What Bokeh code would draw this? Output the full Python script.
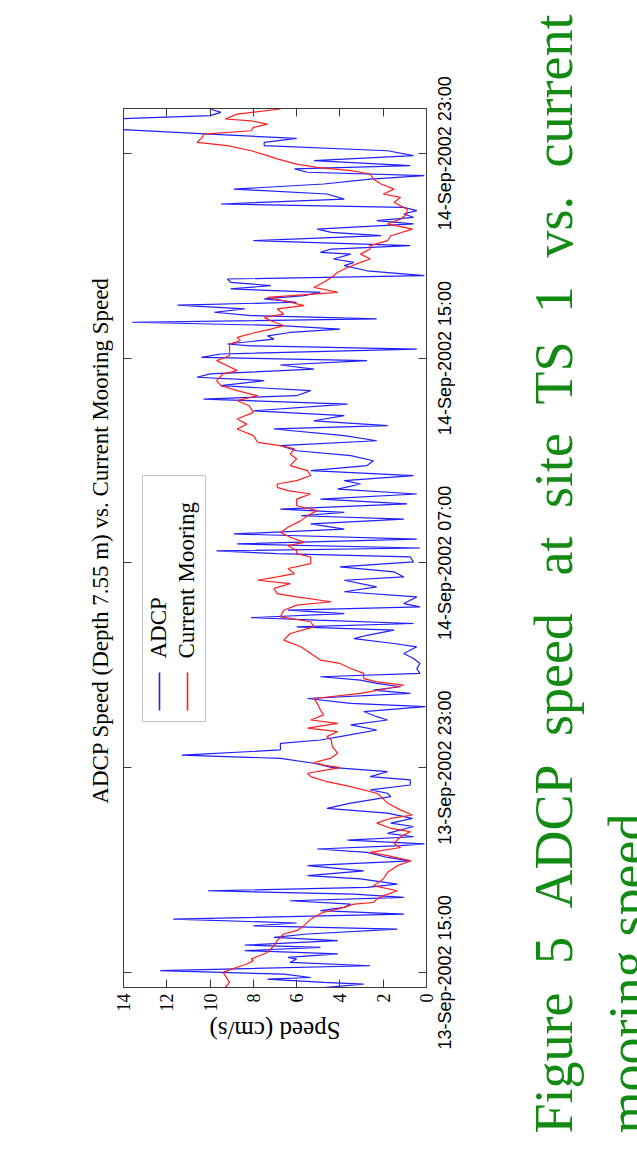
import math
from bokeh.plotting import figure
from bokeh.layouts import row, column
from bokeh.models import Range1d, LinearAxis, FixedTicker, Label, BoxAnnotation, ColumnDataSource
from bokeh.core.properties import value
from bokeh.embed import file_html
from bokeh.resources import INLINE

# ---------------- data (hours since 13-Sep-2002 00:00, speed in cm/s) ----------------
adcp_hours = [14.41, 14.54, 14.61, 14.74, 14.80, 14.93, 15.07, 15.13, 15.26, 15.39, 15.52, 15.59,
              15.72, 15.85, 15.98, 16.07, 16.24, 16.37, 16.50, 16.69, 16.82, 16.93, 17.08, 17.28,
              17.41, 17.54, 17.67, 17.80, 17.93, 18.06, 18.19, 18.32, 18.45, 18.65, 18.78, 18.97,
              19.17, 19.36, 19.49, 19.69, 19.82, 19.95, 20.02, 20.17, 20.30, 20.43, 20.70, 20.83,
              21.02, 21.22, 21.41, 21.61, 21.87, 22.00, 22.13, 22.32, 22.52, 22.65, 22.84, 23.01,
              23.17, 23.36, 23.49, 23.69, 23.95, 24.08, 24.21, 24.47, 24.67, 24.86, 24.99, 25.19,
              25.38, 25.51, 25.70, 25.90, 26.03, 26.16, 26.29, 26.42, 26.55, 26.68, 26.87, 27.07,
              27.26, 27.46, 27.72, 27.85, 28.04, 28.17, 28.37, 28.50, 28.63, 28.76, 28.86, 29.02,
              29.15, 29.28, 29.41, 29.54, 29.67, 29.87, 30.06, 30.32, 30.45, 30.65, 30.84, 31.04,
              31.23, 31.36, 31.47, 31.58, 31.74, 31.93, 32.13, 32.32, 32.52, 32.71, 32.84, 32.97,
              33.10, 33.30, 33.49, 33.69, 33.88, 34.08, 34.21, 34.41, 34.60, 34.80, 34.99, 35.19,
              35.38, 35.58, 35.77, 35.97, 36.23, 36.36, 36.55, 36.75, 36.94, 37.20, 37.40, 37.53,
              37.73, 37.92, 38.12, 38.25, 38.38, 38.57, 38.73, 38.90, 39.03, 39.16, 39.35, 39.48,
              39.55, 39.74, 39.87, 40.00, 40.13, 40.27, 40.40, 40.53, 40.66, 40.79, 40.92, 41.07,
              41.18, 41.31, 41.44, 41.57, 41.70, 41.83, 41.96, 42.09, 42.22, 42.41, 42.61, 42.74,
              42.87, 43.06, 43.13, 43.26, 43.39, 43.59, 43.78, 43.91, 44.04, 44.24, 44.37, 44.50,
              44.63, 44.76, 44.89, 45.02, 45.21, 45.41, 45.60, 45.80, 45.99, 46.13, 46.26, 46.39,
              46.52, 46.71, 46.91, 47.10, 47.30, 47.43, 47.58, 47.75, 47.95, 48.14, 48.34, 48.47,
              48.60, 48.73]
adcp_speed = [4.75, 2.9, 4.75, 7.35, 5.35, 6.6, 12.3, 9.35, 2.6, 6.3, 6.0, 6.4,
              4.1, 8.4, 4.9, 8.4, 4.1, 7.05, 5.5, 1.35, 8.0, 6.0, 11.7, 1.05,
              4.9, 3.8, 3.5, 6.3, 1.05, 3.35, 10.1, 2.75, 1.35, 3.05, 5.5, 2.9,
              5.5, 0.75, 1.8, 2.75, 5.05, 1.2, 0.1, 3.65, 0.6, 1.8, 0.6, 1.65,
              0.65, 1.8, 4.6, 3.5, 1.65, 1.8, 2.6, 0.75, 0.75, 2.6, 1.8, 4.4,
              5.2, 6.75, 11.3, 6.75, 6.75, 4.9, 4.0, 2.3, 3.5, 1.8, 2.3, 2.9,
              0.05, 3.5, 5.5, 0.75, 2.45, 1.2, 2.3, 3.05, 4.9, 0.3, 0.45, 0.3,
              0.6, 1.05, 0.45, 1.5, 3.35, 2.75, 1.5, 6.0, 0.6, 5.05, 8.1, 3.8,
              6.4, 0.3, 1.05, 0.75, 0.45, 3.8, 2.3, 3.8, 1.05, 1.5, 4.0, 0.6,
              0.75, 6.9, 9.7, 0.3, 8.75, 0.45, 8.9, 3.8, 5.35, 1.05, 5.8, 3.8,
              6.75, 0.9, 4.9, 0.45, 4.1, 3.05, 3.8, 0.6, 5.35, 2.75, 2.45, 3.5,
              6.0, 6.75, 2.3, 3.8, 7.05, 1.8, 5.2, 3.8, 8.0, 3.65, 10.3, 6.0,
              5.35, 9.5, 7.5, 10.6, 10.0, 5.2, 6.75, 2.75, 10.4, 9.5, 0.45, 8.1,
              9.2, 7.05, 7.35, 6.3, 4.0, 6.75, 13.6, 2.3, 8.1, 9.8, 8.4, 11.5,
              6.0, 7.5, 5.65, 4.9, 9.05, 7.2, 9.05, 9.2, 0.1, 2.75, 3.8, 3.35,
              4.3, 3.5, 4.9, 4.4, 0.75, 8.0, 2.1, 4.4, 5.05, 0.6, 2.3, 0.6,
              1.05, 0.45, 1.05, 9.5, 3.8, 4.6, 8.9, 4.75, 2.6, 0.1, 5.5, 6.1,
              0.75, 5.2, 0.6, 1.8, 7.5, 7.5, 6.0, 10.0, 14.6, 14.6, 14.6, 10.0,
              9.5, 10.0]

mooring_hours = [14.41, 14.61, 15.00, 15.20, 15.33, 15.46, 15.52, 15.78, 16.04, 16.24, 16.50, 16.63,
                 16.76, 17.08, 17.34, 17.47, 17.67, 17.73, 17.86, 17.99, 18.19, 18.39, 18.65, 18.91,
                 19.17, 19.36, 19.56, 19.69, 19.88, 20.04, 20.30, 20.50, 20.63, 20.83, 21.02, 21.15,
                 21.35, 21.61, 21.87, 22.00, 22.26, 22.45, 22.65, 22.78, 22.91, 23.00, 23.10, 23.20,
                 23.36, 23.56, 23.82, 24.08, 24.21, 24.41, 24.54, 24.73, 24.86, 25.06, 25.25, 25.51,
                 25.70, 25.90, 26.09, 26.22, 26.35, 26.48, 26.68, 26.87, 27.07, 27.20, 27.46, 27.72,
                 27.98, 28.24, 28.50, 28.70, 28.89, 29.15, 29.35, 29.48, 29.67, 29.80, 30.00, 30.19,
                 30.32, 30.45, 30.58, 30.78, 30.97, 31.23, 31.36, 31.48, 31.67, 31.80, 32.00, 32.19,
                 32.39, 32.65, 32.84, 33.04, 33.23, 33.49, 33.69, 33.82, 33.95, 34.08, 34.21, 34.41,
                 34.60, 34.80, 35.06, 35.25, 35.45, 35.58, 35.71, 35.97, 36.23, 36.42, 36.62, 36.88,
                 37.14, 37.34, 37.53, 37.73, 37.92, 38.12, 38.38, 38.51, 38.70, 38.90, 39.09, 39.35,
                 39.55, 39.68, 39.81, 39.98, 40.13, 40.27, 40.46, 40.59, 40.72, 40.92, 41.05, 41.24,
                 41.37, 41.57, 41.76, 41.96, 42.15, 42.35, 42.54, 42.74, 42.87, 43.06, 43.26, 43.39,
                 43.59, 43.78, 44.04, 44.24, 44.43, 44.63, 44.82, 45.08, 45.28, 45.41, 45.60, 45.80,
                 45.99, 46.19, 46.32, 46.45, 46.58, 46.78, 46.91, 47.10, 47.30, 47.43, 47.62, 47.75,
                 47.88, 48.01, 48.14, 48.27, 48.34, 48.53, 48.73]
mooring_speed = [9.3, 9.1, 9.4, 8.75, 8.3, 8.0, 8.1, 7.35, 7.05, 6.9, 6.6, 6.0,
                 5.75, 5.35, 4.8, 4.1, 3.35, 2.45, 2.3, 2.0, 1.35, 2.45, 2.0, 1.8,
                 1.35, 0.7, 1.8, 2.6, 1.2, 1.5, 1.2, 0.75, 1.65, 2.3, 1.65, 0.65,
                 1.2, 1.8, 2.1, 2.3, 3.5, 4.6, 5.35, 5.5, 4.6, 4.0, 4.75, 5.2,
                 4.45, 4.1, 4.35, 4.4, 4.6, 4.1, 5.5, 4.1, 5.35, 4.75, 4.9, 5.05,
                 5.2, 3.05, 1.8, 1.05, 2.3, 2.9, 2.9, 3.5, 4.0, 4.9, 5.35, 5.8,
                 6.6, 6.3, 5.2, 5.35, 6.75, 6.6, 6.0, 4.4, 6.0, 6.9, 7.05, 6.3,
                 7.8, 6.9, 6.1, 6.4, 5.35, 5.35, 6.0, 6.0, 6.4, 5.65, 6.3, 6.75,
                 6.4, 5.8, 5.5, 5.05, 6.0, 6.0, 5.35, 6.4, 6.9, 6.9, 6.0, 5.35,
                 5.5, 6.3, 6.0, 6.3, 6.1, 6.75, 7.8, 8.0, 8.75, 8.3, 8.75, 8.0,
                 8.2, 8.75, 7.8, 8.75, 9.5, 9.7, 9.4, 8.75, 9.2, 9.7, 9.1, 9.1,
                 9.1, 8.6, 8.75, 8.0, 7.2, 6.6, 7.2, 7.5, 6.6, 6.9, 5.65, 6.6,
                 7.35, 4.1, 5.2, 4.75, 4.4, 4.1, 3.65, 3.05, 2.6, 3.05, 2.6, 2.6,
                 1.8, 1.65, 0.65, 1.8, 1.2, 0.9, 0.9, 1.5, 1.2, 2.0, 1.5, 2.1,
                 2.45, 2.6, 3.5, 5.05, 6.0, 6.9, 7.35, 8.1, 9.2, 10.6, 10.35, 10.3,
                 8.1, 8.0, 7.35, 8.1, 9.3, 8.75, 6.75]

time_ticks = [15, 23, 31, 39, 47]
time_tick_labels = ["13-Sep-2002 15:00", "13-Sep-2002 23:00", "14-Sep-2002 07:00",
                    "14-Sep-2002 15:00", "14-Sep-2002 23:00"]
speed_ticks = [0, 2, 4, 6, 8, 10, 12, 14]

title_text = "ADCP Speed (Depth 7.55 m) vs. Current Mooring Speed"
speed_label_text = "Speed (cm/s)"
legend_names = ["ADCP", "Current Mooring"]
caption_line1 = ["Figure", "5", "ADCP", "speed", "at", "site", "TS", "1", "vs.", "current"]
caption_line2 = ["mooring", "speed."]

# ---------------- styling constants ----------------
SERIF = "Liberation Serif"
SANS = "Liberation Sans"
AX = "#3a3a3a"
BLUE = "#1f1fff"
RED = "#ff1f1f"
GREEN = "#138a13"
PAGE_H = 1170

# page columns: [0,115) title | [115,434) plot | [434,500) time labels | [500,637) caption
LEFT_W, MAIN_W, TICK_W, CAP_W = 115, 319, 66, 137
MAIN_H, BOTTOM_H = 1015, 155
BORDER_TOP, BORDER_BOTTOM_MAIN, BORDER_SIDE = 108, 28, 8
FRAME_H = MAIN_H - BORDER_TOP - BORDER_BOTTOM_MAIN
FRAME_W = MAIN_W - 2 * BORDER_SIDE


def blank(width, height, x0, x1, y0, y1):
    f = figure(width=width, height=height, output_backend="svg", toolbar_location=None,
               x_range=Range1d(x0, x1), y_range=Range1d(y0, y1), min_border=0)
    f.axis.visible = False
    f.grid.visible = False
    f.outline_line_color = None
    f.background_fill_color = "white"
    f.border_fill_color = "white"
    return f


# ---------------- main plot ----------------
p = figure(width=MAIN_W, height=MAIN_H, output_backend="svg", toolbar_location=None,
           x_range=Range1d(14, 0), y_range=Range1d(14.41, 48.75),
           x_axis_location="below", y_axis_location="right",
           min_border_left=BORDER_SIDE, min_border_right=BORDER_SIDE,
           min_border_top=BORDER_TOP, min_border_bottom=BORDER_BOTTOM_MAIN)
p.background_fill_color = "white"
p.border_fill_color = "white"
p.outline_line_color = AX
p.grid.visible = False

p.add_layout(LinearAxis(), "left")
p.add_layout(LinearAxis(), "above")
for ax in p.xaxis:
    ax.ticker = FixedTicker(ticks=speed_ticks)
for ax in p.yaxis:
    ax.ticker = FixedTicker(ticks=time_ticks)
for ax in list(p.xaxis) + list(p.yaxis):
    ax.major_tick_in = 8
    ax.major_tick_out = 0
    ax.minor_tick_line_color = None
    ax.axis_line_color = AX
    ax.major_tick_line_color = AX
    ax.major_label_text_color = "black"

bottom_ax = p.below[0]
bottom_ax.major_label_orientation = math.pi / 2
bottom_ax.major_label_text_font = SERIF
bottom_ax.major_label_text_font_size = "18px"
bottom_ax.major_label_standoff = 6
for ax in (p.above[0], p.left[0], p.right[0]):
    # tick marks only; the labels of these mirrored axes are not drawn
    ax.major_label_text_color = None
    ax.major_label_text_font_size = "0px"
    ax.major_label_standoff = 0

p.line(adcp_speed, adcp_hours, line_color=BLUE, line_width=1.2)
p.line(mooring_speed, mooring_hours, line_color=RED, line_width=1.2)

# legend (screen units relative to the plot frame)
p.add_layout(BoxAnnotation(left=19, right=82, bottom=266, top=512,
                           left_units="screen", right_units="screen",
                           bottom_units="screen", top_units="screen",
                           fill_color="white", fill_alpha=1.0, line_color=AX, line_width=1,
                           level="underlay"))
x0r, x1r = p.x_range.start, p.x_range.end
y0r, y1r = p.y_range.start, p.y_range.end


def sx_to_data(sx):
    return x0r + (x1r - x0r) * sx / FRAME_W


def sy_to_data(sy):
    return y0r + (y1r - y0r) * sy / FRAME_H


for lx, name, col in zip([36, 64], legend_names, [BLUE, RED]):
    p.segment(x0=[sx_to_data(lx)], y0=[sy_to_data(277)], x1=[sx_to_data(lx)], y1=[sy_to_data(315)],
              line_color=col, line_width=1.6)
    p.add_layout(Label(x=lx - 1, y=329, x_units="screen", y_units="screen", text=name,
                       angle=math.pi / 2, text_align="left", text_baseline="middle",
                       text_font=SERIF, text_font_size="23px", text_color="black"))

# ---------------- speed axis label under the plot ----------------
bottom_fig = blank(MAIN_W, BOTTOM_H, LEFT_W, LEFT_W + MAIN_W, PAGE_H, MAIN_H)
bottom_fig.add_layout(Label(x=274.5, y=1030, text=speed_label_text, angle=math.pi,
                            text_align="center", text_baseline="middle",
                            text_font=SERIF, text_font_size="25px", text_color="black"))

# ---------------- title at the left ----------------
left_fig = blank(LEFT_W, PAGE_H, 0, LEFT_W, PAGE_H, 0)
left_fig.add_layout(Label(x=100, y=540, text=title_text, angle=math.pi / 2,
                          text_align="center", text_baseline="middle",
                          text_font=SERIF, text_font_size="23px", text_color="black"))

# ---------------- time tick labels (same time scale as the plot, full page height) ----------------
hpp = (y1r - y0r) / FRAME_H
tick_fig = blank(TICK_W, PAGE_H, 0, TICK_W,
                 y0r - (PAGE_H - BORDER_TOP - FRAME_H) * hpp, y1r + BORDER_TOP * hpp)
tick_src = ColumnDataSource(dict(x=[10] * len(time_ticks), y=time_ticks, text=time_tick_labels))
tick_fig.text(x="x", y="y", text="text", source=tick_src, angle=math.pi / 2,
              text_align="center", text_baseline="middle",
              text_font=value(SANS), text_font_size="18px", text_color="black")

# ---------------- green caption at the right ----------------
cap_fig = blank(CAP_W, PAGE_H, 500, 637, PAGE_H, 0)
line1_starts = [1133, 963.5, 908, 735.5, 575, 507.5, 404, 312.5, 257, 167]
for word, ys in zip(caption_line1, line1_starts):
    cap_fig.add_layout(Label(x=553, y=ys, text=word, angle=math.pi / 2,
                             text_align="left", text_baseline="alphabetic",
                             text_font=SERIF, text_font_size="54px", text_color=GREEN))
line2_starts = [1133, 936]
for word, ys in zip(caption_line2, line2_starts):
    cap_fig.add_layout(Label(x=627, y=ys, text=word, angle=math.pi / 2,
                             text_align="left", text_baseline="alphabetic",
                             text_font=SERIF, text_font_size="54px", text_color=GREEN))

layout = row(left_fig, column(p, bottom_fig, spacing=0), tick_fig, cap_fig, spacing=0)
open("out.html", "w").write(file_html(layout, INLINE))
